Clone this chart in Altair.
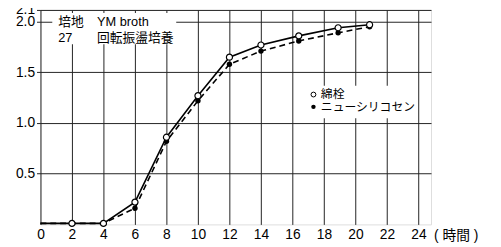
import altair as alt
import pandas as pd

# ---- data ----
hours = [0, 2, 4, 6, 8, 10, 12, 14, 16.4, 18.9, 20.9]
cotton = [0.01, 0.01, 0.01, 0.22, 0.86, 1.27, 1.65, 1.77, 1.86, 1.94, 1.97]
silicosen = [0.01, 0.01, 0.01, 0.16, 0.82, 1.22, 1.58, 1.71, 1.81, 1.89, 1.95]
series_names = ["綿栓", "ニューシリコセン"]
x_ticks = list(range(0, 25, 2))
y_ticks = [0.5, 1.0, 1.5, 2.0]
y_top = 2.116
x_max = 24.8
note_left = ["培地", "27"]
note_right = ["YM broth", "回転振盪培養"]
x_unit = "(  時間  )"

FONT = "Liberation Sans, Noto Sans CJK JP"

rows = []
for h, a, b in zip(hours, cotton, silicosen):
    rows.append({"h": h, "v": a, "s": series_names[0]})
    rows.append({"h": h, "v": b, "s": series_names[1]})
df = pd.DataFrame(rows)

xs = alt.Scale(domain=[0, x_max], nice=False, zero=False)
ys = alt.Scale(domain=[0, y_top], nice=False, zero=False)

x_axis = alt.Axis(values=x_ticks, grid=True, ticks=False, domain=False,
                  labelFontSize=14, labelPadding=3, title=None,
                  labelFlush=False, labelOverlap=False, format="d",
                  labelFont=FONT, labelColor="black",
                  gridColor="#222", gridWidth=1, gridOpacity=1)
y_axis = alt.Axis(values=y_ticks + [y_top], grid=True, ticks=True, tickSize=4,
                  tickColor="#222", domain=False, labelFontSize=14, labelPadding=2,
                  title=None, labelOverlap=False, labelFlush=False,
                  labelExpr="datum.value > 2.05 ? '2.1' : format(datum.value, '.1f')",
                  labelFont=FONT, labelColor="black",
                  gridColor="#222", gridWidth=1, gridOpacity=1)

X = alt.X("h:Q", scale=xs, axis=x_axis)
Y = alt.Y("v:Q", scale=ys, axis=y_axis)

base = alt.Chart(df)

line_a = base.transform_filter(alt.datum.s == series_names[0]).mark_line(
    color="black", strokeWidth=1.6).encode(x=X, y=Y)
line_b = base.transform_filter(alt.datum.s == series_names[1]).mark_line(
    color="black", strokeWidth=1.6, strokeDash=[6, 4]).encode(x=X, y=Y)
pts_b = base.transform_filter((alt.datum.s == series_names[1]) & (alt.datum.h > 0)).mark_circle(
    color="black", size=30, opacity=1).encode(x=X, y=Y)
pts_a = base.transform_filter((alt.datum.s == series_names[0]) & (alt.datum.h > 0)).mark_point(
    shape="circle", filled=True, fill="white", stroke="black", strokeWidth=1.2,
    size=38, opacity=1).encode(x=X, y=Y)

one = pd.DataFrame({"k": [0]})


def label(text, px, py, size, align="left"):
    return alt.Chart(one).mark_text(
        align=align, baseline="middle", fontSize=size, font=FONT, color="black",
        text=text).encode(x=alt.value(px), y=alt.value(py))


box1 = alt.Chart(one).mark_rect(fill="white").encode(
    x=alt.value(12), x2=alt.value(138), y=alt.value(3), y2=alt.value(35))
box2 = alt.Chart(one).mark_rect(fill="white").encode(
    x=alt.value(260), x2=alt.value(381), y=alt.value(77), y2=alt.value(110))

ann = [
    label(note_left[0], 18, 12, 13), label(note_left[1], 18, 29, 13),
    label(note_right[0], 57.5, 12, 13), label(note_right[1], 57.5, 29, 13),
    label(series_names[0], 285, 86, 12), label(series_names[1], 285, 98.5, 12),
    label(x_unit, 400, 229.5, 14),
]

leg_open = alt.Chart(one).mark_point(shape="circle", filled=True, fill="white",
                                     stroke="black", strokeWidth=1, size=24, opacity=1).encode(
    x=alt.value(277.5), y=alt.value(86))
leg_fill = alt.Chart(one).mark_circle(color="black", size=20, opacity=1).encode(
    x=alt.value(277.5), y=alt.value(98.5))

chart = alt.layer(
    line_a, line_b, pts_b, pts_a, box1, box2, leg_open, leg_fill, *ann
).properties(
    width=397, height=218,
    autosize=alt.AutoSizeParams(type="none"),
    padding={"left": 33, "top": 0, "right": 63, "bottom": 21},
).configure_view(
    stroke="#333", strokeWidth=1.5
).configure(background="white")

chart.save("out.html", embed_options={"renderer": "svg", "actions": False})
